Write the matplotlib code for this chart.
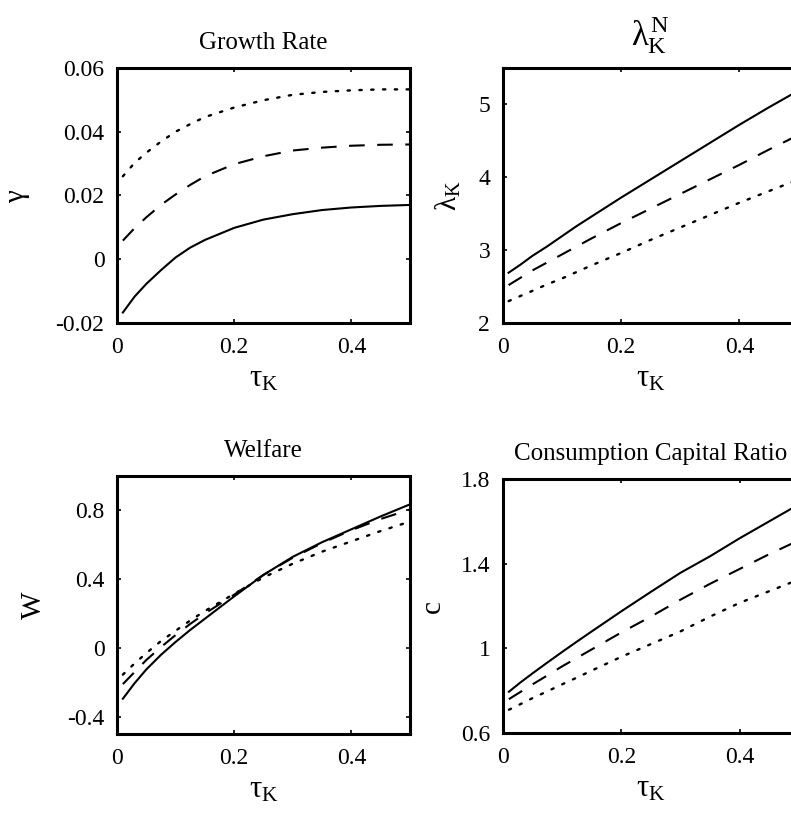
import matplotlib
matplotlib.use("Agg")
import matplotlib.pyplot as plt

plt.rcParams['font.family'] = ['Liberation Serif', 'DejaVu Serif']
plt.rcParams['mathtext.fontset'] = 'custom'
plt.rcParams['mathtext.rm'] = 'Liberation Serif'
plt.rcParams['mathtext.it'] = 'Liberation Serif'
plt.rcParams['axes.unicode_minus'] = False

tau = [0.01, 0.03, 0.05, 0.075, 0.1, 0.125, 0.15, 0.2, 0.25, 0.3, 0.35, 0.4, 0.45, 0.5]

# growth rate
gamma_solid = [-0.0168, -0.0118, -0.0078, -0.0035, 0.0005, 0.0036, 0.0060, 0.0098,
               0.0124, 0.0141, 0.0154, 0.0162, 0.0167, 0.0170]
gamma_dash = [0.0058, 0.0097, 0.0131, 0.0170, 0.0203, 0.0233, 0.0260, 0.0298,
              0.0323, 0.0341, 0.0350, 0.0356, 0.0359, 0.0360]
gamma_dot = [0.0260, 0.0302, 0.0334, 0.0369, 0.0400, 0.0424, 0.0446, 0.0476,
             0.0499, 0.0516, 0.0525, 0.0530, 0.0533, 0.0533]

# lambda_K
lam_solid = [2.69, 2.80, 2.92, 3.05, 3.19, 3.33, 3.46, 3.72, 3.97, 4.22, 4.47, 4.72, 4.96, 5.19]
lam_dash = [2.52, 2.62, 2.72, 2.83, 2.94, 3.05, 3.16, 3.37, 3.57, 3.77, 3.97, 4.17, 4.38, 4.58]
lam_dot = [2.30, 2.37, 2.44, 2.53, 2.61, 2.70, 2.79, 2.96, 3.14, 3.31, 3.48, 3.65, 3.81, 3.97]

# welfare
w_solid = [-0.295, -0.205, -0.125, -0.04, 0.035, 0.105, 0.17, 0.30, 0.425, 0.53, 0.615, 0.69, 0.765, 0.835]
w_dash = [-0.21, -0.14, -0.07, 0.005, 0.075, 0.14, 0.20, 0.31, 0.425, 0.525, 0.61, 0.685, 0.75, 0.805]
w_dot = [-0.155, -0.09, -0.03, 0.04, 0.10, 0.16, 0.215, 0.315, 0.41, 0.49, 0.56, 0.62, 0.68, 0.735]

# consumption capital ratio
c_solid = [0.795, 0.84, 0.882, 0.933, 0.983, 1.032, 1.08, 1.175, 1.267, 1.357, 1.435, 1.52, 1.60, 1.68]
c_dash = [0.76, 0.795, 0.83, 0.872, 0.915, 0.955, 0.995, 1.075, 1.15, 1.23, 1.305, 1.375, 1.445, 1.51]
c_dot = [0.71, 0.737, 0.765, 0.797, 0.83, 0.862, 0.895, 0.96, 1.02, 1.08, 1.15, 1.215, 1.27, 1.325]

xticks = [0, 0.2, 0.4]
xticklabels = ['0', '0.2', '0.4']

panels = [
    dict(pos=[0.1479, 0.6045, 0.3704, 0.3121], series=(gamma_solid, gamma_dash, gamma_dot),
         title='Growth Rate', tsize=18, tpad=14,
         ylabel=r'$\gamma$', ylx=-0.29, ylim=(-0.02, 0.06),
         yticks=[-0.02, 0, 0.02, 0.04, 0.06], yticklabels=['-0.02', '0', '0.02', '0.04', '0.06']),
    dict(pos=[0.6355, 0.6042, 0.374, 0.3125], series=(lam_solid, lam_dash, lam_dot),
         title=r'$\lambda_{\mathrm{K}}^{\mathrm{N}}$', tsize=25, tpad=16,
         ylabel=r'$\lambda_{\mathrm{K}}$', ylx=-0.134, ylim=(2, 5.5),
         yticks=[2, 3, 4, 5], yticklabels=['2', '3', '4', '5']),
    dict(pos=[0.1479, 0.1005, 0.3704, 0.3162], series=(w_solid, w_dash, w_dot),
         title='Welfare', tsize=18, tpad=14,
         ylabel='W', ylx=-0.24, ylim=(-0.5, 1.0),
         yticks=[-0.4, 0, 0.4, 0.8], yticklabels=['-0.4', '0', '0.4', '0.8']),
    dict(pos=[0.6359, 0.1017, 0.374, 0.3113], series=(c_solid, c_dash, c_dot),
         title='Consumption Capital Ratio', tsize=18, tpad=14,
         ylabel='c', ylx=-0.193, ylim=(0.6, 1.8),
         yticks=[0.6, 1, 1.4, 1.8], yticklabels=['0.6', '1', '1.4', '1.8']),
]

fig = plt.figure(figsize=(7.91, 8.16), dpi=100)
for p in panels:
    ax = fig.add_axes(p['pos'])
    s, d, o = p['series']
    ax.plot(tau, s, color='k', lw=1.5)
    ax.plot(tau, d, color='k', lw=1.5, linestyle=(0, (7.5, 6)))
    ax.plot(tau, o, color='k', lw=1.7, linestyle=(0, (1, 4)), dash_capstyle='round')
    ax.set_xlim(0, 0.5)
    ax.set_ylim(*p['ylim'])
    ax.set_xticks(xticks)
    ax.set_xticklabels(xticklabels)
    ax.set_yticks(p['yticks'])
    ax.set_yticklabels(p['yticklabels'])
    ax.tick_params(direction='in', top=True, right=True, length=3, width=1.2,
                   labelsize=17)
    ax.tick_params(axis='x', pad=10)
    ax.tick_params(axis='y', pad=9)
    for sp in ax.spines.values():
        sp.set_linewidth(2.2)
    ax.set_title(p['title'], fontsize=p['tsize'], pad=p['tpad'])
    ax.set_xlabel(r'$\tau_{\mathrm{K}}$', fontsize=22, labelpad=5)
    ax.set_ylabel(p['ylabel'], fontsize=21)
    ax.yaxis.set_label_coords(p['ylx'], 0.5)

fig.savefig('out.png', dpi=100)
